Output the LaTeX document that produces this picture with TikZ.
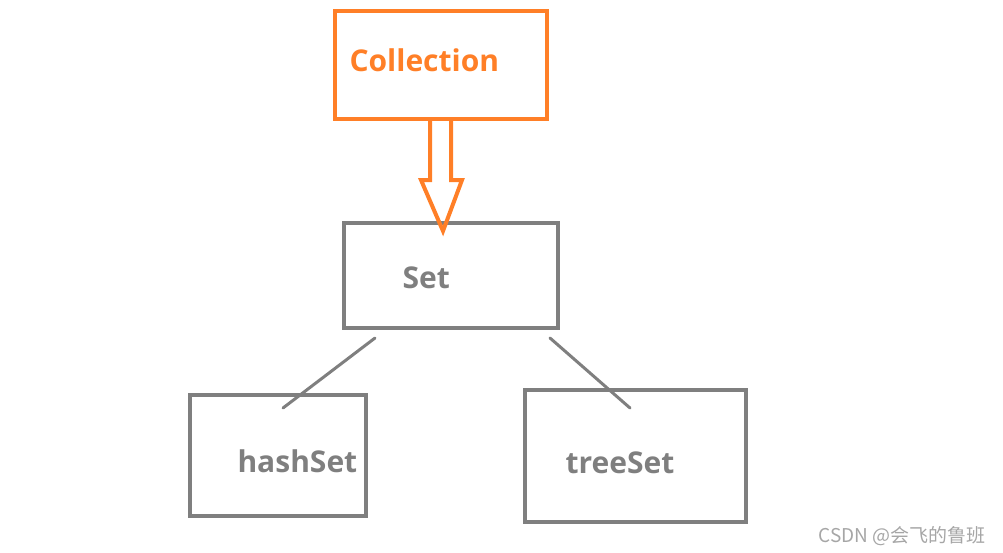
\documentclass[tikz,border=0pt]{standalone}
\usepackage{fontspec}
\setmainfont{Open Sans}
\newfontfamily\cjkfont{Noto Sans CJK SC}
\usepackage{tikz}
\usetikzlibrary{calc}

\definecolor{boxorange}{HTML}{FF7F27}
\definecolor{boxgray}{HTML}{7F7F7F}
\definecolor{markgray}{HTML}{A6A6A6}

\tikzset{
  box/.style={draw, rectangle, line width=4pt, inner sep=0pt},
  label/.style={anchor=base west, font=\fontsize{30}{32}\selectfont\bfseries},
  branch/.style={draw=boxgray, line width=3pt, line cap=round}
}

\begin{document}
\begin{tikzpicture}[x=1pt, y=-1pt]
        \useasboundingbox (0,0) rectangle (1003,552);

        % Boxes
        \node[box, draw=boxorange, minimum width=212pt, minimum height=108pt] (coll) at (441,65) {};
        \node[box, draw=boxgray, minimum width=214pt, minimum height=105pt] (set) at (451,275.5) {};
        \node[box, draw=boxgray, minimum width=176pt, minimum height=121pt] (hash) at (278,455.5) {};
        \node[box, draw=boxgray, minimum width=221pt, minimum height=132pt] (tree) at (635.5,456) {};

        % Labels
        \node[label, text=boxorange] (colltext) at (346,71) {Collection};
        \node[label, text=boxgray] (settext) at (399,288) {Set};
        \node[label, text=boxgray] (hashtext) at (234,472) {hashSet};
        \node[label, text=boxgray] (treetext) at (562,473) {treeSet};

        % Hollow arrow Collection -> Set
        \draw[boxorange, line width=4pt, line join=miter]
          ($(coll.south)+(-11,0)$) -- ++(0,59) -- ++(-9,0)
          -- ($(set.north)+(-8,10)$) -- ($(coll.south)+(21,59)$)
          -- ++(-11,0) -- ($(coll.south)+(10,0)$);

        % Branches Set -> hashSet, treeSet
        \coordinate (hashtop) at ($(set.south west)+(33,8)$);
        \coordinate (hashend) at ($(hash.north west)+(95,15)$);
        \coordinate (treetop) at ($(set.south east)+(-10,8)$);
        \coordinate (treeend) at ($(tree.north west)+(107,20)$);
        \draw[branch] (hashtop) -- (hashend);
        \draw[branch] (treetop) -- (treeend);

        % Watermark
        \node[anchor=base west, text=markgray, font=\cjkfont\fontsize{19}{21}\selectfont] (mark) at (815,542) {CSDN @会飞的鲁班};
\end{tikzpicture}
\end{document}
